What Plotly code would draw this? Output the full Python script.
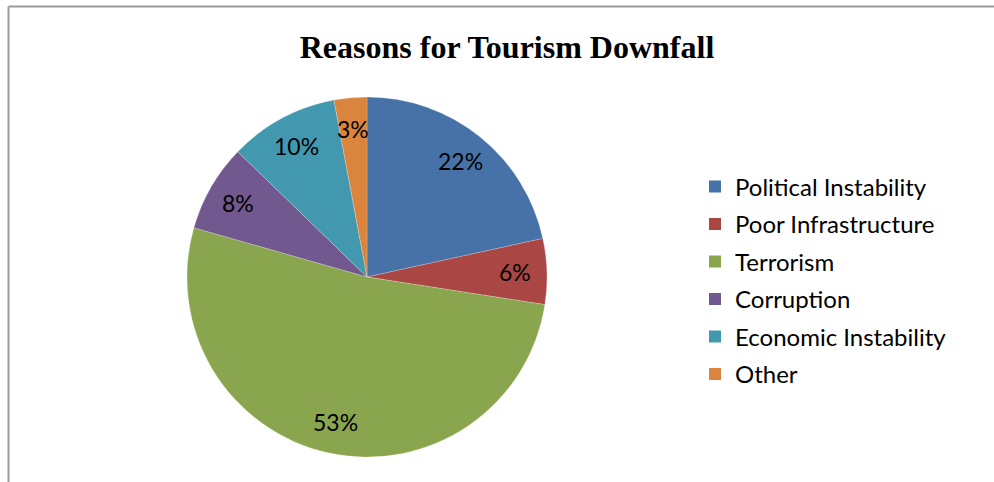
import math
import plotly.graph_objects as go

W, H = 994, 482

categories = ["Political Instability", "Poor Infrastructure", "Terrorism",
              "Corruption", "Economic Instability", "Other"]
percent_values = [22, 6, 53, 8, 10, 3]
colors = ["#4672A8", "#AA4644", "#89A54E", "#71588F", "#4298AF", "#DB843D"]
title_text = "Reasons for Tourism Downfall"

# pie geometry (pixels)
PIE_L, PIE_R, PIE_T, PIE_B = 187, 547, 97, 457
CX, CY = (PIE_L + PIE_R) / 2, (PIE_T + PIE_B) / 2
RADIUS = (PIE_R - PIE_L) / 2
LABEL_R = 0.825 * RADIUS

fig = go.Figure()

fig.add_trace(go.Pie(
    labels=categories,
    values=percent_values,
    sort=False,
    direction="clockwise",
    rotation=0,
    marker=dict(colors=colors, line=dict(color="rgba(255,255,255,0.35)", width=0.6)),
    textinfo="none",
    hoverinfo="label+value",
    showlegend=False,
    domain=dict(x=[PIE_L / W, PIE_R / W], y=[1 - PIE_B / H, 1 - PIE_T / H]),
))

# data labels placed along each slice's mid-angle (derived from the values)
total = sum(percent_values)
annotations = []
cum = 0.0
for v in percent_values:
    mid = (cum + v / 2) / total * 2 * math.pi
    cum += v
    px = CX + LABEL_R * math.sin(mid)
    py = CY - LABEL_R * math.cos(mid)
    annotations.append(dict(
        x=px / W, y=1 - py / H, xref="paper", yref="paper",
        text=f"{v}%", showarrow=False, xanchor="center", yanchor="middle",
        font=dict(family="Lato", size=23, color="#000000"),
    ))

# legend entries (one per category) with even spacing
for i, (cat, col) in enumerate(zip(categories, colors)):
    fig.add_trace(go.Scatter(
        x=[None], y=[None], mode="markers", name=cat,
        marker=dict(symbol="square", size=12, color=col, line=dict(width=0)),
        legendgroup=f"g{i}", showlegend=True, hoverinfo="skip",
    ))

fig.update_layout(
    width=W, height=H,
    margin=dict(l=0, r=0, t=0, b=0),
    paper_bgcolor="white", plot_bgcolor="white",
    xaxis=dict(visible=False), yaxis=dict(visible=False),
    title=dict(text=f"<b>{title_text}</b>", x=507 / W, xanchor="center",
               y=1 - 47 / H, yanchor="middle",
               font=dict(family="Liberation Serif", size=32, color="#000000")),
    legend=dict(x=695 / W, xanchor="left", y=1 - 164.5 / H, yanchor="top",
                font=dict(family="Lato", size=24, color="#000000"),
                tracegroupgap=3.3, bgcolor="rgba(0,0,0,0)"),
    annotations=annotations,
    shapes=[
        dict(type="line", xref="paper", yref="paper",
             x0=8.5 / W, x1=8.5 / W, y0=0, y1=1 - 6.5 / H,
             line=dict(color="#9a9a9a", width=2)),
        dict(type="line", xref="paper", yref="paper",
             x0=8.5 / W, x1=1, y0=1 - 6.5 / H, y1=1 - 6.5 / H,
             line=dict(color="#9a9a9a", width=2)),
    ],
)

fig.write_html("out.html")
